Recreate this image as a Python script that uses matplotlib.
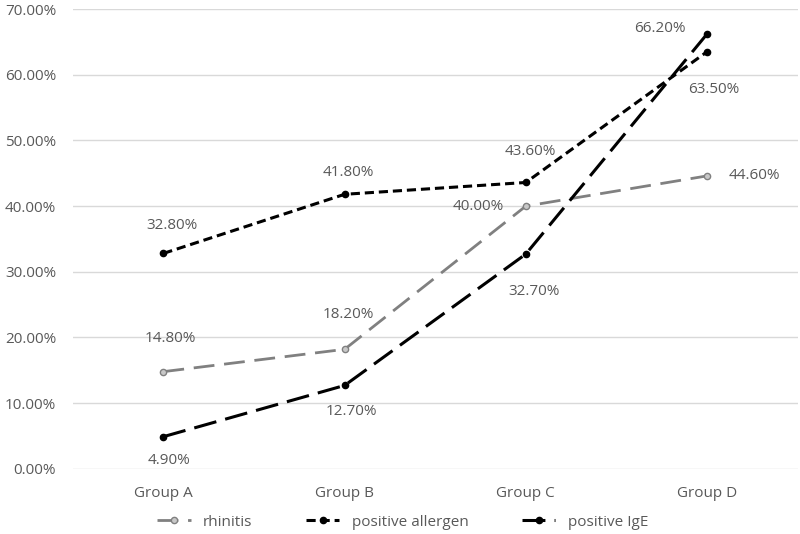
import matplotlib.pyplot as plt
from matplotlib.ticker import FuncFormatter

groups = ["Group A", "Group B", "Group C", "Group D"]
rhinitis = [14.8, 18.2, 40.0, 44.6]
allergen = [32.8, 41.8, 43.6, 63.5]
ige = [4.9, 12.7, 32.7, 66.2]

# label offsets (points) for each data label
rhin_off = [(5, 24), (3, 25), (-34, 0), (34, 0)]
all_off = [(6, 20), (3, 16), (3, 22), (5, -27)]
ige_off = [(4, -17), (5, -19), (6, -27), (-34, 4)]

plt.rcParams['font.family'] = ['Open Sans', 'DejaVu Sans']
txt = '#595959'
fs = 11

fig = plt.figure(figsize=(8, 5.34), dpi=100)
ax = fig.add_axes([0.091, 0.122, 0.906, 0.861])
x = range(len(groups))

ax.plot(x, rhinitis, color='#808080', lw=2, dashes=(7.5, 3.5), marker='o', ms=4.5,
        mfc='#c8c8c8', mec='#808080', label='rhinitis')
ax.plot(x, allergen, color='black', lw=2.2, dashes=(3, 1.6), marker='o', ms=4.5,
        label='positive allergen')
ax.plot(x, ige, color='black', lw=2.2, dashes=(7.5, 3), marker='o', ms=4.5,
        label='positive IgE')

for vals, offs in [(rhinitis, rhin_off), (allergen, all_off), (ige, ige_off)]:
    for i, (v, o) in enumerate(zip(vals, offs)):
        ax.annotate(f"{v:.2f}%", (i, v), xytext=o, textcoords='offset points',
                    ha='center', va='center', fontsize=fs, color=txt)

ax.set_xlim(-0.5, 3.5)
ax.set_ylim(0, 70)
ax.set_yticks(range(0, 71, 10))
ax.yaxis.set_major_formatter(FuncFormatter(lambda v, p: f"{v:.2f}%"))
ax.set_xticks(list(x))
ax.set_xticklabels(groups)
ax.grid(axis='y', color='#d9d9d9', lw=1)
ax.set_axisbelow(True)
for s in ax.spines.values():
    s.set_visible(False)
ax.tick_params(length=0, colors=txt, labelsize=fs)
ax.tick_params(axis='x', pad=12)
ax.tick_params(axis='y', pad=12)

ax.legend(loc='upper center', bbox_to_anchor=(0.455, -0.07), ncol=3, frameon=False,
          fontsize=fs, labelcolor=txt, handlelength=2.2, columnspacing=3.5)

fig.savefig('out.png', dpi=100)
